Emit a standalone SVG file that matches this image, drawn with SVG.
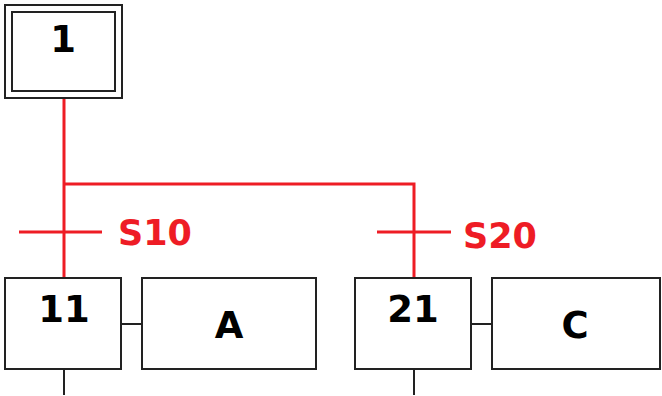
<svg xmlns="http://www.w3.org/2000/svg" width="662" height="396" viewBox="0 0 662 396">
<style>
.box{fill:#fff;stroke:#222;stroke-width:2}
.blk{stroke:#222;stroke-width:2;fill:none}
.red{stroke:#ee1c25;stroke-width:3;fill:none}
.num{font-family:"DejaVu Sans",Verdana,sans-serif;font-weight:bold;font-size:37px;fill:#000;text-anchor:middle}
.lbl{font-family:"DejaVu Sans",Verdana,sans-serif;font-weight:bold;font-size:35px;fill:#ee1c25}
</style>
<rect width="662" height="396" fill="#fff"/>
<g id="connectors">
<path class="red" d="M64 98V278M64 184H414V278M19 232H102M377 232H451"/>
<path class="blk" d="M121 324H142M471 324H492M64 369V395M414 369V395"/>
<text class="lbl" x="118" y="245">S10</text>
<text class="lbl" x="463" y="248">S20</text>
</g>
<g id="step1">
<rect class="box" x="5" y="5" width="117" height="93"/>
<rect class="box" x="12" y="12" width="103" height="79"/>
<text class="num" x="63" y="52">1</text>
</g>
<g id="step11">
<rect class="box" x="5" y="278" width="116" height="91"/>
<text class="num" x="64" y="322">11</text>
</g>
<g id="actionA">
<rect class="box" x="142" y="278" width="174" height="91"/>
<text class="num" x="229" y="338">A</text>
</g>
<g id="step21">
<rect class="box" x="355" y="278" width="116" height="91"/>
<text class="num" x="413" y="322">21</text>
</g>
<g id="actionC">
<rect class="box" x="492" y="278" width="168" height="91"/>
<text class="num" x="575" y="338">C</text>
</g>
</svg>
